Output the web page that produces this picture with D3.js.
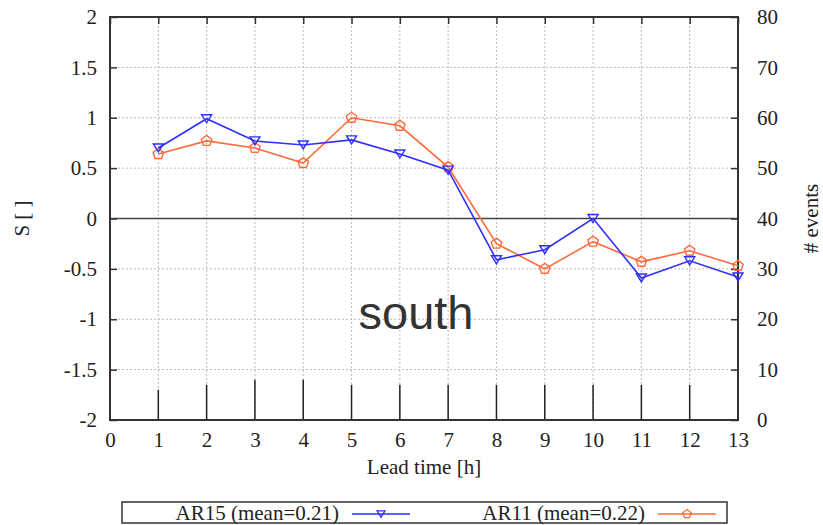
<!DOCTYPE html>
<html>
<head>
<meta charset="utf-8">
<script src="https://cdn.jsdelivr.net/npm/d3@7"></script>
<style>
  body { margin: 0; background: #fff; }
</style>
</head>
<body>
<script>
// lead times and skill values
const leadTimes = [1, 2, 3, 4, 5, 6, 7, 8, 9, 10, 11, 12, 13];
const ar15 = [0.70, 0.99, 0.77, 0.73, 0.78, 0.64, 0.48, -0.41, -0.31, 0.0, -0.59, -0.42, -0.58];
const ar11 = [0.64, 0.77, 0.70, 0.55, 1.00, 0.92, 0.51, -0.25, -0.50, -0.23, -0.43, -0.32, -0.47];
const events = [6, 7, 8, 8, 7, 7, 7, 7, 7, 7, 7, 7, 7];
const xTicks = d3.range(0, 14);
const yTicks = [-2, -1.5, -1, -0.5, 0, 0.5, 1, 1.5, 2];
const y2Ticks = [0, 10, 20, 30, 40, 50, 60, 70, 80];

const width = 823;
const height = 525;
const margin = {left: 110, right: 85, top: 17, bottom: 105};

const serif = "'Liberation Serif', 'DejaVu Serif', 'Times New Roman', serif";
const fontSize = "21px";

const svg = d3.select("body")
    .append("svg")
    .attr("width", width)
    .attr("height", height)
    .attr("font-family", serif);

const x = d3.scaleLinear().domain([0, 13]).range([margin.left, width - margin.right]);
const y = d3.scaleLinear().domain([-2, 2]).range([height - margin.bottom, margin.top]);
const y2 = d3.scaleLinear().domain([0, 80]).range([height - margin.bottom, margin.top]);

const blue = "#2f2fff";
const orange = "#ff6a3a";

// grid
svg.append("g")
    .selectAll("line")
    .data(xTicks.slice(1, -1))
    .enter()
    .append("line")
    .attr("x1", d => x(d)).attr("x2", d => x(d))
    .attr("y1", y(-2)).attr("y2", y(2))
    .attr("stroke", "#bbb")
    .attr("stroke-dasharray", "2,2");

svg.append("g")
    .selectAll("line")
    .data(yTicks.slice(1, -1).filter(d => d !== 0))
    .enter()
    .append("line")
    .attr("x1", x(0)).attr("x2", x(13))
    .attr("y1", d => y(d)).attr("y2", d => y(d))
    .attr("stroke", "#bbb")
    .attr("stroke-dasharray", "2,2");

// zero line
svg.append("line")
    .attr("x1", x(0)).attr("x2", x(13))
    .attr("y1", y(0)).attr("y2", y(0))
    .attr("stroke", "#444")
    .attr("stroke-width", 1.5);

// number of events as impulses
svg.append("g")
    .selectAll("line")
    .data(leadTimes)
    .enter()
    .append("line")
    .attr("x1", d => x(d)).attr("x2", d => x(d))
    .attr("y1", y2(0))
    .attr("y2", (d, i) => y2(events[i]))
    .attr("stroke", "#222")
    .attr("stroke-width", 1.5);

// axes
const axisStyle = g => {
    g.attr("font-family", serif).attr("font-size", fontSize);
    g.select(".domain").remove();
    g.selectAll(".tick line").attr("stroke", "#333").attr("stroke-width", 1.5);
    g.selectAll(".tick text").attr("fill", "#222");
};

svg.append("g")
    .attr("transform", `translate(0,${y(-2)})`)
    .call(d3.axisBottom(x).tickValues(xTicks).tickSize(0).tickPadding(12))
    .call(axisStyle);

svg.append("g")
    .attr("transform", `translate(0,${y(2)})`)
    .call(d3.axisTop(x).tickValues(xTicks).tickSize(-7).tickFormat(""))
    .call(axisStyle);

svg.append("g")
    .attr("transform", `translate(${x(0)},0)`)
    .call(d3.axisLeft(y).tickValues(yTicks).tickSize(-7).tickPadding(13).tickFormat(d => String(d)))
    .call(axisStyle);

svg.append("g")
    .attr("transform", `translate(${x(13)},0)`)
    .call(d3.axisRight(y2).tickValues(y2Ticks).tickSize(-7).tickPadding(19))
    .call(axisStyle);

// frame
svg.append("rect")
    .attr("x", x(0)).attr("y", y(2))
    .attr("width", x(13) - x(0))
    .attr("height", y(-2) - y(2))
    .attr("fill", "none")
    .attr("stroke", "#333")
    .attr("stroke-width", 2);

// axis titles
svg.append("text")
    .attr("transform", `translate(29,${y(0)}) rotate(-90)`)
    .attr("text-anchor", "middle")
    .attr("font-size", fontSize)
    .attr("fill", "#222")
    .text("S [ ]");

svg.append("text")
    .attr("transform", `translate(818,${y(0)}) rotate(-90)`)
    .attr("text-anchor", "middle")
    .attr("font-size", fontSize)
    .attr("fill", "#222")
    .text("# events");

svg.append("text")
    .attr("x", x(6.5))
    .attr("y", 474)
    .attr("text-anchor", "middle")
    .attr("font-size", fontSize)
    .attr("fill", "#222")
    .text("Lead time [h]");

svg.append("text")
    .attr("x", x(6.5) - 8)
    .attr("y", 329)
    .attr("text-anchor", "middle")
    .attr("font-family", "'Liberation Sans', Arial, sans-serif")
    .attr("font-size", "47px")
    .attr("fill", "#333")
    .text("south");

// series
const triangle = "M-5,-4L5,-4L0,4Z";
const pentagon = d3.range(5).map(k => {
    const a = -Math.PI / 2 + k * 2 * Math.PI / 5;
    return [5.5 * Math.cos(a), 5.5 * Math.sin(a)];
});
const pentPath = "M" + pentagon.map(p => p.join(",")).join("L") + "Z";

const series = [
    {name: "AR15 (mean=0.21)", values: ar15, color: blue, marker: triangle},
    {name: "AR11 (mean=0.22)", values: ar11, color: orange, marker: pentPath}
];

const line = d3.line()
    .x((d, i) => x(leadTimes[i]))
    .y(d => y(d));

series.slice().reverse().forEach(s => {
    svg.append("path")
        .attr("d", line(s.values))
        .attr("fill", "none")
        .attr("stroke", s.color)
        .attr("stroke-width", 1.6);
    svg.append("g")
        .selectAll("path")
        .data(s.values)
        .enter()
        .append("path")
        .attr("transform", (d, i) => `translate(${x(leadTimes[i])},${y(d)})`)
        .attr("d", s.marker)
        .attr("fill", "none")
        .attr("stroke", s.color)
        .attr("stroke-width", 1.4);
});

// legend
const legend = svg.append("g");
legend.append("rect")
    .attr("x", 122).attr("y", 502)
    .attr("width", 605).attr("height", 21)
    .attr("fill", "none")
    .attr("stroke", "#333")
    .attr("stroke-width", 1.5);

const legendX = [339, 645];
series.forEach((s, i) => {
    legend.append("text")
        .attr("x", legendX[i])
        .attr("y", 520)
        .attr("text-anchor", "end")
        .attr("font-size", fontSize)
        .attr("fill", "#222")
        .text(s.name);
    legend.append("line")
        .attr("x1", legendX[i] + 13).attr("x2", legendX[i] + 71)
        .attr("y1", 514).attr("y2", 514)
        .attr("stroke", s.color)
        .attr("stroke-width", 1.6);
    legend.append("path")
        .attr("transform", `translate(${legendX[i] + 42},514) scale(0.8)`)
        .attr("d", s.marker)
        .attr("fill", "none")
        .attr("stroke", s.color)
        .attr("stroke-width", 1.6);
});
</script>
</body>
</html>
